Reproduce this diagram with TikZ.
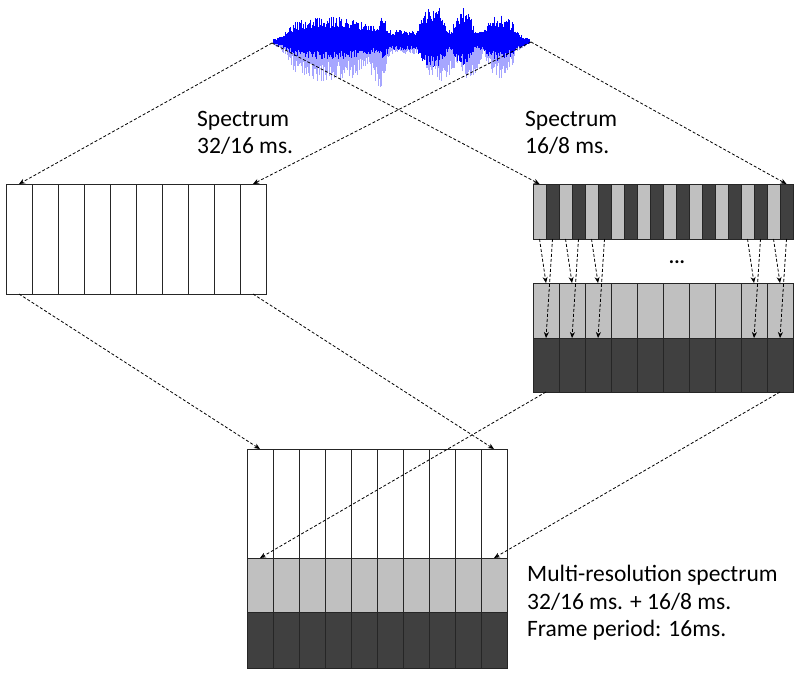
\documentclass[tikz,border=0pt]{standalone}
\usepackage{fontspec}
\setmainfont{Carlito}
\usetikzlibrary{arrows.meta, positioning}
\definecolor{cellLight}{RGB}{192,192,192}
\definecolor{cellDark}{RGB}{64,64,64}
\tikzset{
  cell/.style={
    rectangle, draw=black!85, line width=1pt, inner sep=0pt, outer sep=0pt,
    minimum width=26pt
  },
  slim/.style={cell, minimum width=13pt, minimum height=55pt},
  flow/.style={
    -{Stealth[length=6pt,width=5pt]}, dash pattern=on 3pt off 2pt,
    line width=0.8pt, black
  },
  lbl/.style={
    anchor=north west, inner sep=0pt, align=left,
    font=\fontsize{23.5}{27.5}\selectfont
  },
  wavedark/.style={blue, line width=0.75pt},
  wavelight/.style={blue!35, line width=0.9pt}
}

\begin{document}
\begin{tikzpicture}[x=1pt, y=-1pt,
  declare function={
    bump(\t,\c,\w)=max(0,1-((\t-\c)/\w)*((\t-\c)/\w));
    taper(\t)=min(1,(\t-272)/22)*min(1,(531-\t)/18);
  }
]
\useasboundingbox (0,0) rectangle (800,674);

% speech waveform
\pgfmathsetseed{42}
\foreach \x in {273,273.8,...,530} {
  \pgfmathsetmacro\up{2+taper(\x)*(10+13*bump(\x,330,55)+12*bump(\x,383,6)+26*bump(\x,433,16)+22*bump(\x,463,12)+15*bump(\x,500,18))}
  \pgfmathsetmacro\lo{2+taper(\x)*(10+28*bump(\x,330,60)+26*bump(\x,380,10)+30*bump(\x,440,20)+26*bump(\x,470,14)+26*bump(\x,500,16))}
  \pgfmathsetmacro\ra{0.55+0.45*rnd}
  \pgfmathsetmacro\rb{0.5+0.5*rnd}
  \pgfmathsetmacro\rc{0.5+0.5*rnd}
  \draw[wavelight] (\x,42) -- (\x,42+\lo*\rb);
  \draw[wavedark] (\x,42-\up*\ra) -- (\x,42+0.7*\up*\rc);
}
\coordinate (wl) at (272,43);
\coordinate (wr) at (531,42);

% 32/16 ms. frames
\foreach \i in {1,...,10}
  \node[cell, minimum height=110pt, fill=white] (L\i) at (19+26*\i-26,239) {};

% 16/8 ms. frames
\foreach \i in {1,...,20} {
  \pgfmathsetmacro\shade{isodd(\i) ? "cellLight" : "cellDark"}
  \node[slim, fill=\shade] (S\i) at (539.5+13*\i-13,211.5) {};
}
\foreach \i in {1,...,10} {
  \node[cell, minimum height=55pt, fill=cellLight] (M\i) at (546+26*\i-26,310.5) {};
  \node[cell, minimum height=54pt, fill=cellDark] (D\i) at (546+26*\i-26,365) {};
}

% multi-resolution spectrum
\foreach \i in {1,...,10} {
  \node[cell, minimum height=109pt, fill=white] (B\i) at (260+26*\i-26,503.5) {};
  \node[cell, minimum height=54pt, fill=cellLight] (BL\i) at (260+26*\i-26,585) {};
  \node[cell, minimum height=56pt, fill=cellDark] (BD\i) at (260+26*\i-26,640) {};
}

\node[lbl] (specA) at (197,111) {Spectrum\\32/16 ms.};
\node[lbl] (specB) at (525,111) {Spectrum\\16/8 ms.};
\node[lbl] (multi) at (527,565) {Multi-resolution spectrum\\32/16 ms. + 16/8 ms.\\Frame period: 16ms.};
\node[anchor=base, font=\fontsize{20}{22}\selectfont\bfseries] (dots) at (677,263) {...};

% connectors
\draw[flow] (wl) -- (L1.north);
\draw[flow] (wl) -- (S1.north);
\draw[flow] (wr) -- (L10.north);
\draw[flow] (wr) -- (S20.north);
\draw[flow] (L1.south) -- (B1.north);
\draw[flow] (L10.south) -- (B10.north);
\draw[flow] (D1.south) -- (BL1.north);
\draw[flow] (D10.south) -- (BL10.north);
\foreach \k in {1,2,3,9,10} {
  \pgfmathtruncatemacro\a{2*\k-1}
  \pgfmathtruncatemacro\b{2*\k}
  \draw[flow] (S\a.south) -- (M\k.north);
  \draw[flow] (S\b.south) -- (D\k.north);
}
\end{tikzpicture}
\end{document}
